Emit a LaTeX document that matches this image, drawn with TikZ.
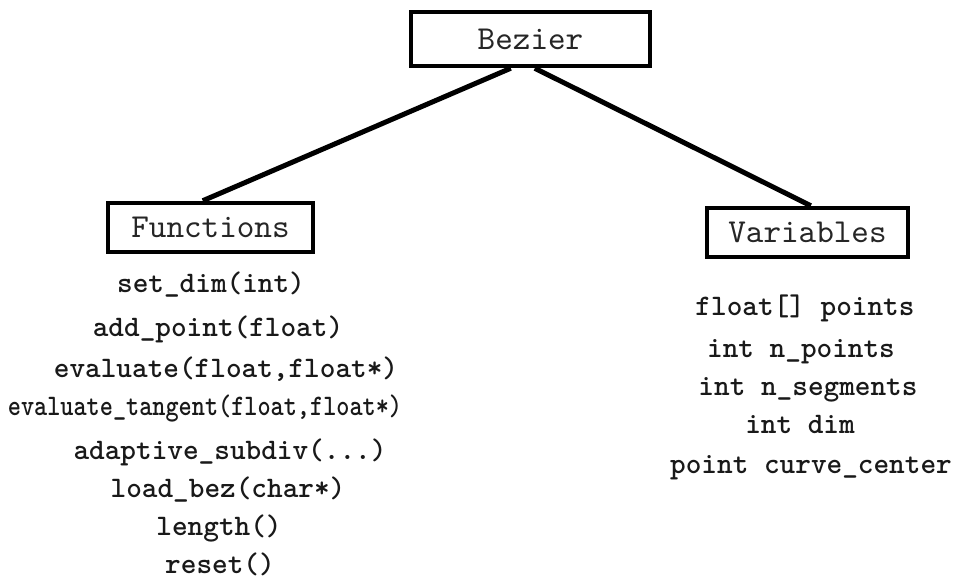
\documentclass[tikz,border=0pt]{standalone}
\usepackage{fontspec}
\newfontfamily\codefont{lmmono10-regular.otf}[BoldFont=lmmonolt10-bold.otf]
\begin{document}
\begin{tikzpicture}[x=1pt,y=-1pt,
  box/.style={draw=black, line width=4.5pt, fill=white, inner sep=0pt,
    font=\codefont\fontsize{33.5}{34}\selectfont, text=black!85},
  entry/.style={anchor=base, inner sep=0pt,
    font=\codefont\bfseries\fontsize{29.8}{31}\selectfont, text=black!90},
  link/.style={line width=5pt, black}]
\useasboundingbox (0,0) rectangle (957,583);

% class and its two groups
\node[box, minimum width=239pt, minimum height=54pt] (bez) at (530.5,39) {Bezier};
\node[box, minimum width=205pt, minimum height=49pt] (fun) at (210.5,227.5) {Functions};
\node[box, minimum width=201pt, minimum height=49pt] (var) at (807.5,232.5) {Variables};

% connectors from the class box to the groups
\draw[link] ([xshift=102pt]bez.south west) -- ([xshift=97pt]fun.north west);
\draw[link] ([xshift=126pt]bez.south west) -- ([xshift=106pt]var.north west);

% member functions
\node[entry] (f1) at (211,292) {set\_dim(int)};
\node[entry] (f2) at (218,336) {add\_point(float)};
\node[entry] (f3) at (226,377) {evaluate(float,float*)};
\node[entry] (f4) at (205,415) {\scalebox{0.84}[1]{evaluate\_tangent(float,float*)}};
\node[entry] (f5) at (230,459) {adaptive\_subdiv(...)};
\node[entry] (f6) at (228,497) {load\_bez(char*)};
\node[entry] (f7) at (219,535) {length()};
\node[entry] (f8) at (220,573) {reset()};

% member variables
\node[entry] (v1) at (805,315) {float[] points};
\node[entry] (v2) at (801,357) {int n\_points};
\node[entry] (v3) at (808,395) {int n\_segments};
\node[entry] (v4) at (800,433) {int dim};
\node[entry] (v5) at (811,473) {point curve\_center};
\end{tikzpicture}
\end{document}
